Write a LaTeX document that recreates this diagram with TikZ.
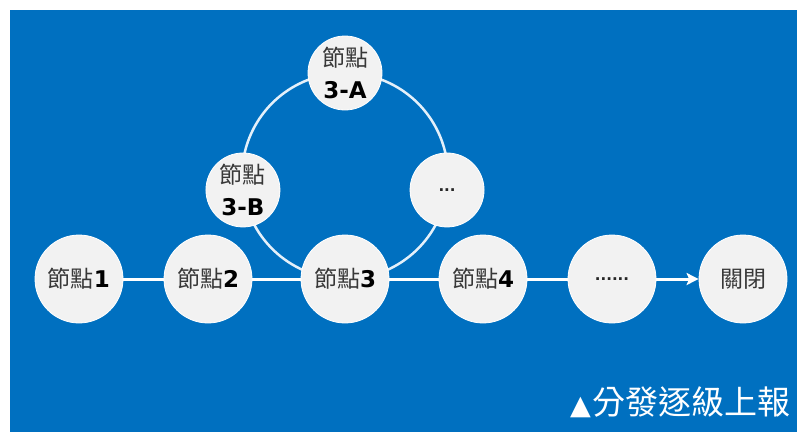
\documentclass[tikz,border=0pt]{standalone}
\usepackage{fontspec}
\setmainfont{Noto Sans CJK TC}
\newfontfamily\numfont{DejaVu Sans}
\newfontfamily\symfont{DejaVu Sans}
\usetikzlibrary{arrows.meta,calc}
\definecolor{bgblue}{HTML}{0070C0}
\definecolor{nodegray}{HTML}{F2F2F2}
\definecolor{txtgray}{HTML}{383838}
\definecolor{ringcol}{HTML}{E4F0FA}
\newcommand{\nm}[1]{{\numfont\bfseries\color{black}#1}}
\begin{document}
\begin{tikzpicture}[x=1pt,y=-1pt,
  big/.style={circle, fill=nodegray, draw=white, line width=0.8pt,
    minimum size=88pt, inner sep=0pt, text=txtgray, align=center,
    font=\fontsize{23}{32}\selectfont},
  small/.style={big, minimum size=74pt},
  dotsfont/.style={font=\numfont\bfseries\fontsize{15}{15}\selectfont, text=black!85},
  flow/.style={draw=white, line width=3pt},
  ring/.style={draw=ringcol, line width=2.5pt}]
\useasboundingbox (0,0) rectangle (797,432);
\fill[white] (0,0) rectangle (797,432);
\fill[bgblue] (10,10) rectangle (797,432);
\coordinate (ringc) at (345,176);
\coordinate (p1) at (79,279);
\coordinate (p2) at (208,279);
\coordinate (p3) at (345,279);
\coordinate (p4) at (483,279);
\coordinate (p5) at (612,279);
\coordinate (p6) at (743,279);
\coordinate (pA) at ($(ringc)+(270:103)$);
\coordinate (pB) at ($(ringc)+(172.2:103)$);
\coordinate (pC) at ($(ringc)+(7.8:103)$);
\draw[ring] (p3) arc[start angle=90, end angle=172.2, radius=103];
\draw[ring] (pB) arc[start angle=172.2, end angle=270, radius=103];
\draw[ring] (pA) arc[start angle=270, end angle=367.8, radius=103];
\draw[ring] (pC) arc[start angle=7.8, end angle=90, radius=103];
\node[big] (n1) at (p1) {節點\nm{1}};
\node[big] (n2) at (p2) {節點\nm{2}};
\node[big] (n3) at (p3) {節點\nm{3}};
\node[big] (n4) at (p4) {節點\nm{4}};
\node[big, dotsfont] (n5) at (p5) {......};
\node[big] (n6) at (p6) {關閉};
\node[small] (nA) at (pA) {節點\\\nm{3-A}};
\node[small] (nB) at (pB) {節點\\\nm{3-B}};
\node[small, dotsfont] (nC) at (pC) {...};
\draw[flow] (n1) -- (n2);
\draw[flow] (n2) -- (n3);
\draw[flow] (n3) -- (n4);
\draw[flow] (n4) -- (n5);
\draw[flow, -{Stealth[length=12pt, width=12pt, inset=2.5pt]}] (n5) -- (n6);
\node[anchor=east, text=white, inner sep=0pt, font=\fontsize{33}{33}\selectfont] (cap) at (791,402)
  {{\symfont\fontsize{27}{27}\selectfont ▲}\kern2pt 分發逐級上報};
\end{tikzpicture}
\end{document}
